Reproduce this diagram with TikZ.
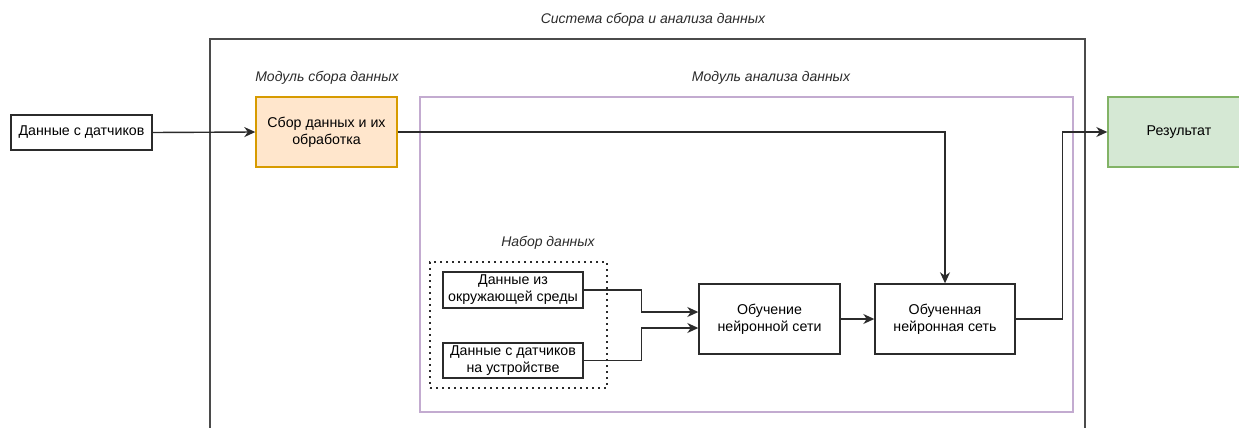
\documentclass[tikz,border=0pt]{standalone}
\usepackage{fontspec}
\setmainfont{Liberation Sans}
\usetikzlibrary{arrows.meta}
\definecolor{orfill}{HTML}{FFE6CC}
\definecolor{ordraw}{HTML}{D79B00}
\definecolor{grfill}{HTML}{D5E8D4}
\definecolor{grdraw}{HTML}{82B366}
\definecolor{purp}{HTML}{C3ABD0}
\definecolor{lnc}{HTML}{2B2B2B}
\begin{document}
\begin{tikzpicture}[x=1pt,y=-1pt,
  box/.style={draw=lnc,line width=1.4pt,align=center,inner sep=0pt,
    font=\fontsize{14.2}{17}\selectfont},
  lbl/.style={font=\itshape\fontsize{14}{17}\selectfont,text=lnc,inner sep=0pt},
  arr/.style={draw=lnc,line width=1.4pt,-{Stealth[length=11pt,width=10pt,inset=3.5pt]}}]
\useasboundingbox (0,0) rectangle (1239,428);
\clip (0,0) rectangle (1239,428);
% containers
\node[draw=lnc!85,line width=1.5pt,minimum width=875,minimum height=431,inner sep=0pt] (outer) at (647.5,254.5) {};
\node[draw=purp,line width=1.8pt,minimum width=653,minimum height=315,inner sep=0pt] (analysis) at (746.5,254.5) {};
\node[draw=lnc,line width=2.2pt,dash pattern=on 2pt off 4pt,minimum width=177,minimum height=126,inner sep=0pt] (dataset) at (518.5,325) {};
% labels
\node[lbl] (ttl) at (653,20) {Система сбора и анализа данных};
\node[lbl] (lcol) at (327,78) {Модуль сбора данных};
\node[lbl] (lan) at (771,78) {Модуль анализа данных};
\node[lbl] (lds) at (548,243) {Набор данных};
% boxes
\node[box,minimum width=141,minimum height=35] (in) at (81.5,132.5) {Данные с датчиков};
\node[box,draw=ordraw,fill=orfill,minimum width=141,minimum height=70] (collect) at (326.5,132) {Сбор данных и их\\обработка};
\node[box,draw=grdraw,fill=grfill,minimum width=142,minimum height=70] (res) at (1179,132) {Результат};
\node[box,minimum width=140,minimum height=36] (env) at (513,290) {Данные из\\окружающей среды};
\node[box,minimum width=140,minimum height=35] (dev) at (513,360.5) {Данные с датчиков\\на устройстве};
\node[box,minimum width=141,minimum height=70] (train) at (769.5,319) {Обучение\\нейронной сети};
\node[box,minimum width=140,minimum height=70] (trained) at (945,319) {Обученная\\нейронная сеть};
% connectors
\draw[arr] (in.east) -- (collect.west);
\draw[arr] (collect.east) -| (trained.north);
\draw[arr] (env.east) -- ++(58,0) |- ([yshift=7pt]train.west);
\draw[arr] (dev.east) -- ++(58,0) |- ([yshift=-9pt]train.west);
\draw[arr] (train.east) -- (trained.west);
\draw[arr] (trained.east) -- ++(47,0) |- (res.west);
\end{tikzpicture}
\end{document}
